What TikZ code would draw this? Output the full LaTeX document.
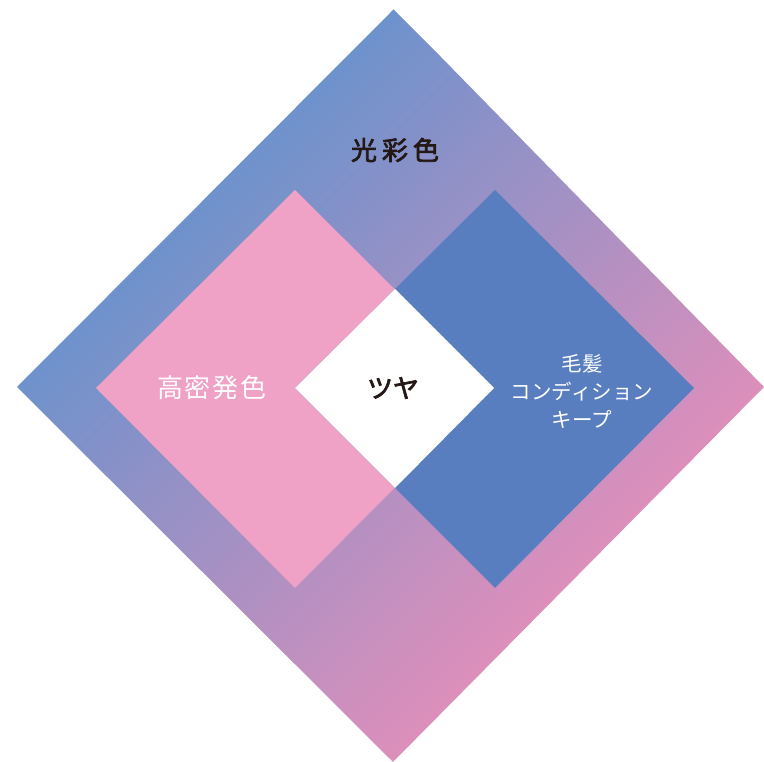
\documentclass[tikz,border=0pt]{standalone}
\usepackage{fontspec}
\newfontfamily\jp{Noto Sans CJK JP}
\newfontfamily\jpm[FakeBold=2.6]{Noto Sans CJK JP}
\definecolor{bgblue}{HTML}{6D92CC}
\definecolor{bgpink}{HTML}{DD8FBB}
\definecolor{sqpink}{HTML}{F0A1C6}
\definecolor{sqblue}{HTML}{587EBF}
\definecolor{txt}{HTML}{231815}
\tikzset{
  darklabel/.style={text=txt, inner sep=0pt, font=\jpm\fontsize{26}{30}\selectfont},
  lightlabel/.style={text=white, inner sep=0pt, align=center},
}
\begin{document}
\begin{tikzpicture}[x=1pt,y=1pt]
\useasboundingbox (0,0) rectangle (764,762);
\coordinate (T) at (394,753);
\coordinate (L) at (17,375);
\coordinate (R) at (764,375);
\coordinate (B) at (393,0);
\coordinate (C) at (391,376);
\begin{scope}
  \clip (L)--(T)--(R)--(B)--cycle;
  \begin{scope}[transform canvas={rotate around={-45:(C)}}]
    \shade[left color=bgblue, right color=bgpink] (391-268,376-268) rectangle (391+268,376+268);
  \end{scope}
\end{scope}
\fill[sqpink] (295,572)--(96,374)--(295,174)--(494,374)--cycle;
\fill[sqblue] (495,572)--(694,374)--(495,174)--(295,374)--cycle;
\fill[white] (395,473)--(494,374)--(395,274)--(295,374)--cycle;
\node[darklabel] (title) at (395,612) {光\hspace{5pt}彩\hspace{5pt}色};
\node[darklabel] (center) at (393,374) {ツヤ};
\node[lightlabel, font=\jp\fontsize{26}{30}\selectfont] (left) at (212,374) {高\hspace{2pt}密\hspace{2pt}発\hspace{2pt}色};
\node[lightlabel, font=\jp\fontsize{20.5}{28}\selectfont] (right) at (582,371) {毛髪\\コンディション\\キープ};
\end{tikzpicture}
\end{document}
